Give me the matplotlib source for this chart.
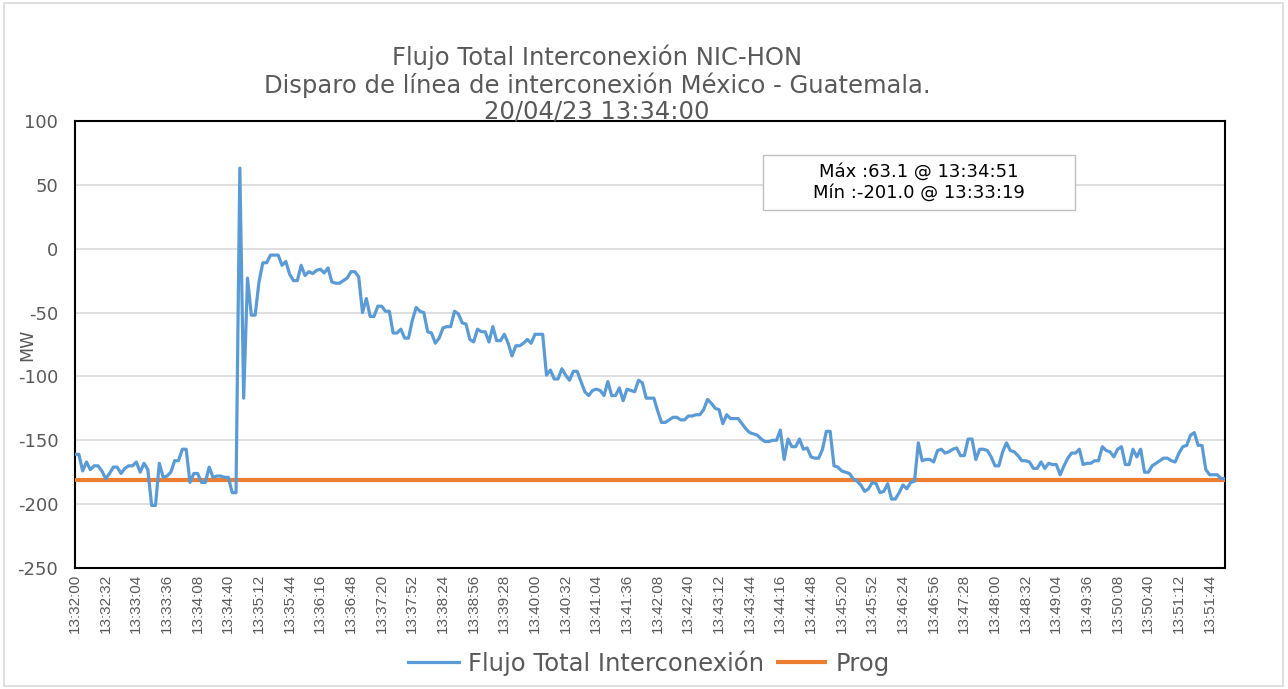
import matplotlib
matplotlib.use("Agg")
import matplotlib.pyplot as plt
from matplotlib.patches import Rectangle
import numpy as np

# ---------------- data ----------------
flujo = [
    -161, -161, -174, -167, -173, -170, -170, -174, -180, -176,
    -171, -171, -176, -172, -170, -170, -167, -175, -168, -173,
    -201.0, -201, -168, -179, -178, -175, -166, -166, -157, -157,
    -183, -176, -176, -183, -183, -171, -179, -178, -178, -179,
    -179, -191, -191, 63.1, -117, -23, -52, -52, -26, -11,
    -11, -5, -5, -5, -13, -10, -20, -25, -25, -13,
    -21, -18, -19.5, -17, -16, -19, -15, -26, -27, -27,
    -25, -23, -18, -18, -22, -50, -39, -53, -53, -45,
    -45, -49, -49, -66, -66, -63, -70, -70, -56, -46,
    -49, -50, -65, -66, -74, -70, -62, -61, -61, -49,
    -51, -58, -59, -71, -73, -63, -65, -65, -73, -61,
    -72, -72, -67, -74, -84, -76, -76, -74, -71, -74,
    -67, -67, -67, -99, -95, -102, -102, -94, -99, -103,
    -96, -96, -104, -112, -115, -111, -110, -111, -115, -104,
    -115, -115, -109, -119, -110, -111, -112, -103, -105, -117,
    -117, -117, -127, -136, -136, -134, -132, -132, -134, -134,
    -131, -131, -130, -130, -126, -118, -121, -125, -126, -137,
    -130, -133, -133, -133, -137, -141, -144, -145, -146, -149,
    -151, -151, -150, -150, -142, -165, -149, -155, -155, -149,
    -157, -156, -163, -164, -164, -157, -143, -143, -170, -171,
    -174, -175, -176, -180, -182, -185, -190, -188, -183, -184,
    -191, -190, -184, -196, -196, -191, -185, -188, -183, -182,
    -152, -166, -165, -165, -167, -158, -157, -160, -159, -157,
    -156, -162, -162, -149, -149, -165, -157, -157, -158, -163,
    -170, -170, -159, -152, -158, -159, -162, -166, -166, -167,
    -172, -172, -167, -172, -168, -169, -169, -177, -170, -164,
    -160, -160, -157, -169, -168, -168, -166, -166, -155, -158,
    -159, -163, -157, -155, -169, -169, -157, -163, -157, -175,
    -175, -170, -168, -166, -164, -164, -166, -167, -160, -155,
    -154, -146, -144, -154, -154, -173, -177, -177, -177, -180, -180,
]
prog_value = -181

tick_labels = [
    "13:32:00", "13:32:32", "13:33:04", "13:33:36", "13:34:08", "13:34:40",
    "13:35:12", "13:35:44", "13:36:16", "13:36:48", "13:37:20", "13:37:52",
    "13:38:24", "13:38:56", "13:39:28", "13:40:00", "13:40:32", "13:41:04",
    "13:41:36", "13:42:08", "13:42:40", "13:43:12", "13:43:44", "13:44:16",
    "13:44:48", "13:45:20", "13:45:52", "13:46:24", "13:46:56", "13:47:28",
    "13:48:00", "13:48:32", "13:49:04", "13:49:36", "13:50:08", "13:50:40",
    "13:51:12", "13:51:44",
]
tick_step = 8  # one label every 8 samples (4 s sampling)

title_text = ("Flujo Total Interconexión NIC-HON\n"
              "Disparo de línea de interconexión México - Guatemala.\n"
              "20/04/23 13:34:00")
stats_lines = ["Máx :63.1 @ 13:34:51", "Mín :-201.0 @ 13:33:19"]
series_names = ["Flujo Total Interconexión", "Prog"]

# ---------------- style ----------------
plt.rcParams["axes.unicode_minus"] = False
plt.rcParams["font.family"] = ["DejaVu Sans"]
TXT = "#595959"
BLUE = "#5B9BD5"
ORANGE = "#ED7D31"

W, H = 1288, 689
fig = plt.figure(figsize=(W / 100, H / 100), dpi=100)

def fx(px):
    return px / W

def fy(py):
    return 1 - py / H

# outer chart border
fig.patches.append(Rectangle((fx(4), fy(686)), fx(1283) - fx(4), fy(3) - fy(686),
                             transform=fig.transFigure, fill=False,
                             edgecolor="#d9d9d9", lw=1.2))

ax = fig.add_axes([fx(75), fy(568), fx(1225) - fx(75), fy(121) - fy(568)])

x = np.arange(len(flujo))
prog = [prog_value] * len(flujo)

ax.plot(x, prog, color=ORANGE, lw=3.0, solid_capstyle="butt", zorder=3,
        label=series_names[1])
ax.plot(x, flujo, color=BLUE, lw=2.3, solid_joinstyle="round", zorder=4,
        label=series_names[0])

ax.set_xlim(0, len(flujo) - 1)
ax.set_ylim(-250, 100)
ax.set_yticks(np.arange(-250, 101, 50))
ax.set_xticks(np.arange(0, len(tick_labels) * tick_step, tick_step))
ax.set_xticklabels(tick_labels, rotation=90, family=["Liberation Sans"],
                   fontsize=11, color=TXT)
ax.tick_params(axis="x", length=0, pad=4)
ax.tick_params(axis="y", length=0, pad=12, labelsize=13, labelcolor=TXT)
ax.grid(axis="y", color="#d9d9d9", lw=1.2, zorder=0)
ax.set_axisbelow(True)
for s in ax.spines.values():
    s.set_color("black")
    s.set_linewidth(1.5)

# y label
fig.text(fx(27), fy(345), "MW", rotation=90, ha="center", va="center",
         fontsize=12.5, color=TXT)

# title
fig.text(fx(597), fy(84), title_text, ha="center", va="center",
         multialignment="center", fontsize=17.5, color=TXT, linespacing=1.1)

# stats box
fig.patches.append(Rectangle((fx(763), fy(210)), fx(1075) - fx(763), fy(155) - fy(210),
                             transform=fig.transFigure, facecolor="white",
                             edgecolor="#bfbfbf", lw=1.0, zorder=5))
fig.text(fx(919), fy(172), stats_lines[0], ha="center", va="center",
         fontsize=13, color="black", zorder=6)
fig.text(fx(919), fy(193), stats_lines[1], ha="center", va="center",
         fontsize=13, color="black", zorder=6)

# legend
h, l = ax.get_legend_handles_labels()
order = [1, 0]
leg = fig.legend([h[i] for i in order], [l[i] for i in order], loc="center",
                 bbox_to_anchor=(fx(649), fy(663)), ncol=2, frameon=False,
                 fontsize=17.5, handlelength=2.1, handletextpad=0.35,
                 columnspacing=0.5, labelcolor=TXT)

fig.savefig("out.png", dpi=100)
